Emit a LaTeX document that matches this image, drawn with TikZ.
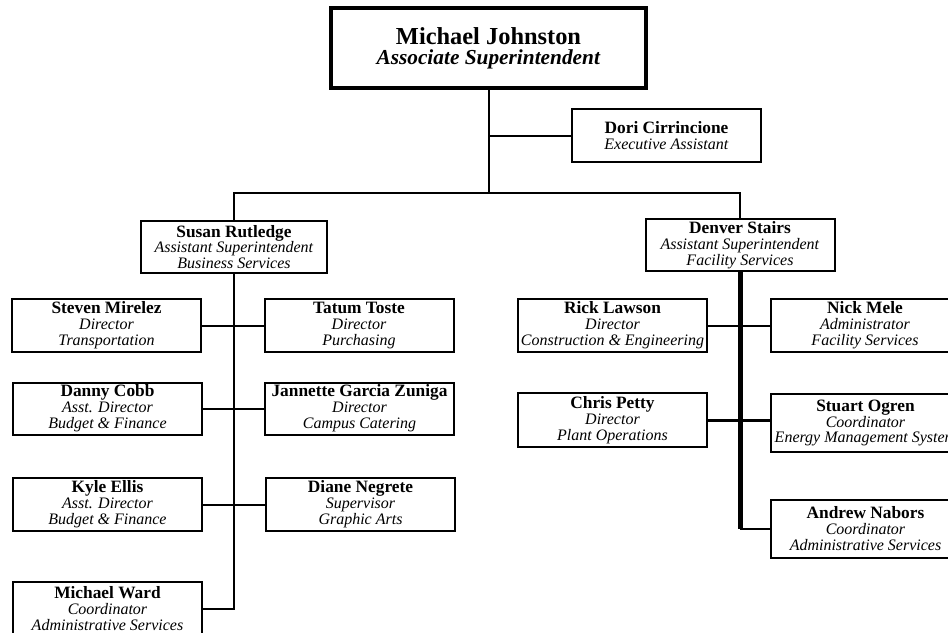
\documentclass[tikz,border=0pt]{standalone}
\usepackage{fontspec}
\setmainfont{Liberation Serif}

\tikzset{
    person/.style={draw, line width=1.5pt, fill=white, inner sep=0pt, align=center,
        minimum width=141.75pt, minimum height=39.75pt,
        font=\fontsize{12}{11.9}\selectfont},
    link/.style={line width=1.5pt},
    trunk/.style={line width=3.75pt},
}
% 姓名 + 两行职务
\newcommand{\staffcard}[3]{{\fontsize{13}{11.9}\selectfont\bfseries #1}\\\textit{#2}\\\textit{#3}}

\begin{document}
\begin{tikzpicture}[x=0.75pt, y=-0.75pt]
    % --- 画布范围 (像素坐标) ---
    \useasboundingbox (0,0) rectangle (948,632);
    \clip (0,0) rectangle (948,632);

    % --- 顶层 ---
    \node[person, line width=3pt, minimum width=236.25pt, minimum height=60pt,
        font=\fontsize{16}{15}\selectfont] (johnston) at (488.5,48)
        {{\fontsize{18.3}{15}\selectfont\bfseries Michael Johnston}\\\textbf{\textit{Associate Superintendent}}};
    \node[person] (dori) at (666.5,135.5)
        {{\fontsize{13}{11.9}\selectfont\bfseries Dori Cirrincione}\\\textit{Executive Assistant}};
    \coordinate (hub) at (488.5,193);

    % --- 两位助理总监 ---
    \node[person, minimum width=139.5pt, minimum height=39pt] (rutledge) at (234,247)
        {\staffcard{Susan Rutledge}{Assistant Superintendent}{Business Services}};
    \node[person, minimum height=39pt] (stairs) at (740,245)
        {\staffcard{Denver Stairs}{Assistant Superintendent}{Facility Services}};

    % --- 左侧: Business Services ---
    \node[person] (mirelez) at (106.5,325.5) {\staffcard{Steven Mirelez}{Director}{Transportation}};
    \node[person] (toste) at (359,325.5) {\staffcard{Tatum Toste}{Director}{Purchasing}};
    \node[person, minimum height=39pt] (cobb) at (107.5,408.5) {\staffcard{Danny Cobb}{Asst. Director}{Budget \& Finance}};
    \node[person, minimum height=39pt] (zuniga) at (359.5,408.5) {\staffcard{Jannette Garcia Zuniga}{Director}{Campus Catering}};
    \node[person] (ellis) at (107.5,504.5) {\staffcard{Kyle Ellis}{Asst. Director}{Budget \& Finance}};
    \node[person] (negrete) at (360.5,504.5) {\staffcard{Diane Negrete}{Supervisor}{Graphic Arts}};
    \node[person] (ward) at (107.5,608.5) {\staffcard{Michael Ward}{Coordinator}{Administrative Services}};

    % --- 右侧: Facility Services ---
    \node[person] (lawson) at (612.5,325.5) {\staffcard{Rick Lawson}{Director}{Construction \& Engineering}};
    \node[person] (mele) at (865,325.5) {\staffcard{Nick Mele}{Administrator}{Facility Services}};
    \node[person, minimum height=40.5pt] (petty) at (612.5,420) {\staffcard{Chris Petty}{Director}{Plant Operations}};
    \node[person, minimum height=43.5pt] (ogren) at (865.5,423)
        {\staffcard{Stuart Ogren}{Coordinator}{\makebox[120pt]{Energy Management System}}};
    \node[person, minimum height=43.5pt] (nabors) at (865.5,528.5)
        {\staffcard{Andrew Nabors}{Coordinator}{Administrative Services}};

    % --- 连线 ---
    \draw[link] (johnston) -- (hub);
    \draw[link] (dori.west) -- (dori.west -| hub);
    \draw[link] (rutledge.north) |- (hub) -| (stairs.north);

    % 左侧主干
    \draw[link] (rutledge.south) |- (ward.east);
    \draw[link] (mirelez) -- (toste);
    \draw[link] (cobb) -- (zuniga);
    \draw[link] (ellis) -- (negrete);

    % 右侧主干 (粗线)
    \draw[trunk] (stairs.south) -- (stairs.south |- nabors.west);
    \draw[link] (lawson) -- (mele);
    \draw[link, line width=2.25pt] (petty.east) -- (ogren.west |- petty.east);
    \draw[link] (stairs.south |- nabors.west) -- (nabors.west);

\end{tikzpicture}
\end{document}
